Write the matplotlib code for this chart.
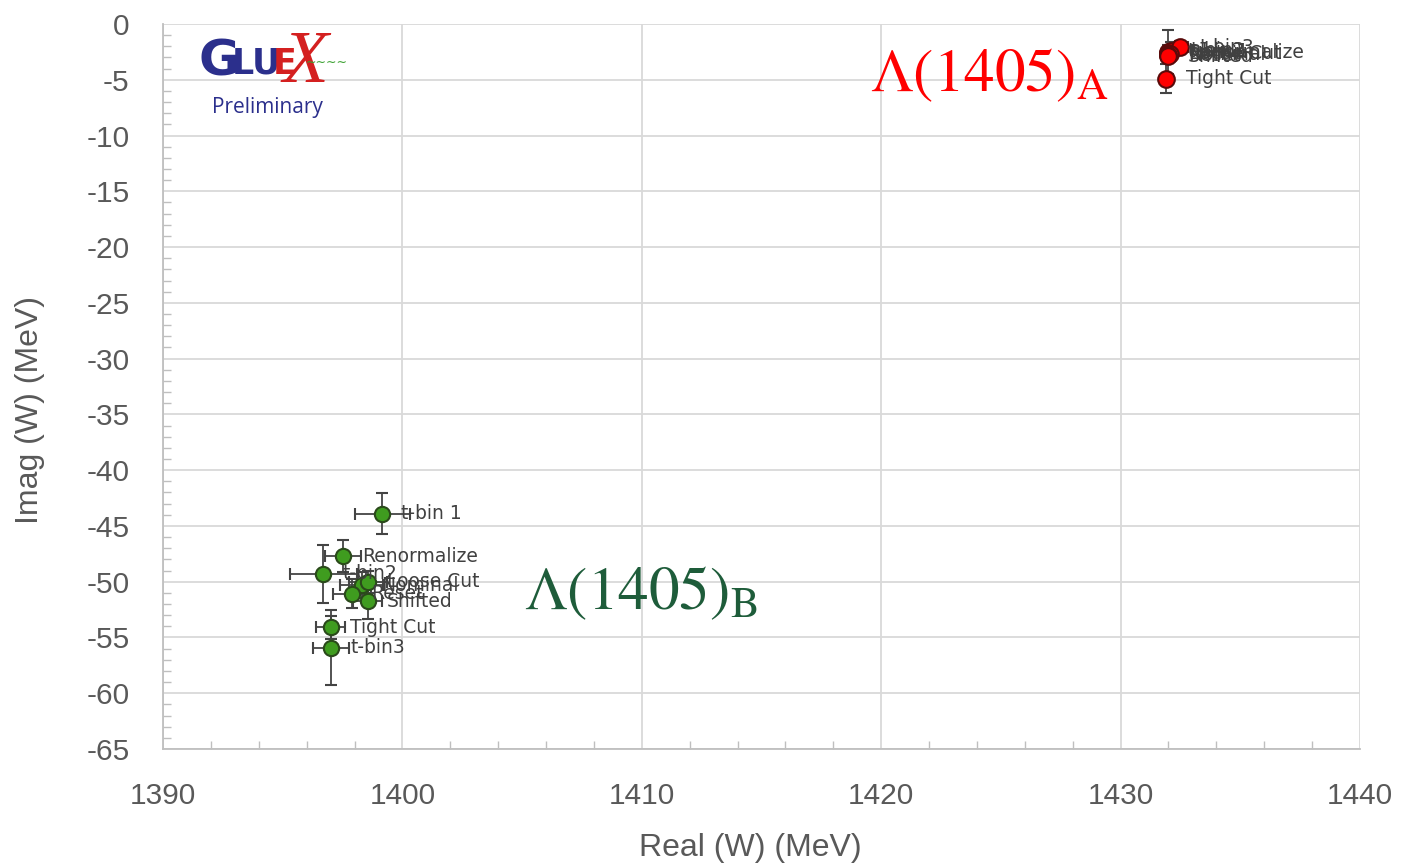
import numpy as np
import matplotlib.pyplot as plt
from matplotlib.ticker import MultipleLocator

plt.rcParams['axes.unicode_minus'] = False
plt.rcParams['mathtext.fontset'] = 'stix'

# Lambda(1405)_B pole positions (green)
b_names = ['t-bin 1', 'Renormalize', 't-bin2', 'Nominal', 'Loose Cut', 'Reset', 'Shifted', 'Tight Cut', 't-bin3']
b_re = [1399.15, 1397.5, 1396.7, 1398.3, 1398.55, 1397.9, 1398.55, 1397.0, 1397.0]
b_im = [-43.9, -47.7, -49.3, -50.3, -50.0, -51.1, -51.75, -54.1, -55.9]
b_re_err = [1.15, 0.75, 1.4, 0.9, 0.8, 0.8, 0.6, 0.6, 0.75]
b_im_err = [1.85, 1.4, 2.6, 1.2, 1.0, 1.3, 1.6, 1.0, 3.4]

# Lambda(1405)_A pole positions (red)
a_names = ['t-bin 1', 't-bin2', 't-bin3', 'Renormalize', 'Nominal', 'Loose Cut', 'Reset', 'Shifted', 'Tight Cut']
a_re = [1432.0, 1432.1, 1432.5, 1432.0, 1432.0, 1432.05, 1432.0, 1432.0, 1431.9]
a_im = [-2.5, -2.4, -2.1, -2.6, -2.7, -2.65, -2.8, -2.9, -4.9]
a_re_err = [0.2, 0.2, 0.3, 0.15, 0.1, 0.1, 0.1, 0.1, 0.1]
a_im_err = [2.0, 0.8, 0.6, 0.7, 0.6, 0.5, 0.7, 0.6, 1.3]

xticks = [1390, 1400, 1410, 1420, 1430, 1440]
yticks = list(range(-65, 1, 5))

gray = '#595959'
sans = 'Liberation Sans'
fig = plt.figure(figsize=(14.01, 8.67), dpi=100)
ax = fig.add_axes([163/1401, 1-749/867, (1360-163)/1401, (749-24)/867])

ax.errorbar(b_re, b_im, xerr=b_re_err, yerr=b_im_err, fmt='o', ms=11,
            mfc='#3f9c1f', mec='#2a4a1a', mew=1.5, ecolor='#444444',
            elinewidth=1.3, capsize=4, zorder=3)
ax.errorbar(a_re, a_im, xerr=a_re_err, yerr=a_im_err, fmt='o', ms=12,
            mfc='#ff0000', mec='#5a0a0a', mew=1.5, ecolor='#444444',
            elinewidth=1.3, capsize=4, zorder=3)

for n, x, y in zip(b_names + a_names, b_re + a_re, b_im + a_im):
    ax.annotate(n, (x, y), xytext=(14, 0), textcoords='offset points',
                va='center', ha='left', fontsize=13.5, color='#404040', zorder=4)

ax.set_xlim(1390, 1440)
ax.set_ylim(-65, 0)
ax.set_xticks(xticks)
ax.set_yticks(yticks)
ax.xaxis.set_minor_locator(MultipleLocator(2))
ax.yaxis.set_minor_locator(MultipleLocator(1))
ax.grid(True, which='major', color='#d9d9d9', lw=1.3)
ax.set_axisbelow(True)
for s in ['top', 'right']:
    ax.spines[s].set_visible(False)
for s in ['left', 'bottom']:
    ax.spines[s].set_color('#bfbfbf')
    ax.spines[s].set_linewidth(1.3)
ax.tick_params(which='major', direction='in', length=0, labelsize=21.5,
               labelcolor=gray)
ax.tick_params(axis='y', which='major', pad=24)
ax.tick_params(axis='x', which='major', pad=24)
ax.tick_params(which='minor', direction='in', length=6, color='#bfbfbf', width=1)
for lab in ax.get_xticklabels() + ax.get_yticklabels():
    lab.set_family(sans)

ax.set_xlabel('Real (W) (MeV)', fontsize=23, color=gray, family=sans)
ax.set_ylabel('Imag (W) (MeV)', fontsize=23, color=gray, family=sans)
ax.xaxis.set_label_coords(750/1401, 1-848/867, transform=fig.transFigure)
ax.yaxis.set_label_coords(30/1401, 1-410/867, transform=fig.transFigure)
ax.xaxis.label.set_va('center')
ax.yaxis.label.set_va('center')

ax.text(0.591, 0.93, r'$\mathrm{\Lambda(1405)}_{\mathrm{A}}$', transform=ax.transAxes,
        fontsize=44, color='#ff0000', va='center')
ax.text(0.302, 0.215, r'$\mathrm{\Lambda(1405)}_{\mathrm{B}}$', transform=ax.transAxes,
        fontsize=44, color='#1e5c3a', va='center')

# GlueX logo approximation
fig.text(198/1401, 1-62/867, 'G', fontsize=36, fontweight='bold',
         color='#2b2f8c', va='center', family='DejaVu Sans')
fig.text(232/1401, 1-64/867, 'LU', fontsize=25, fontweight='bold',
         color='#2b2f8c', va='center', family='DejaVu Sans')
fig.text(273/1401, 1-64/867, 'E', fontsize=25, fontweight='bold',
         color='#d42020', va='center', family='DejaVu Sans')
fig.text(282/1401, 1-64/867, 'X', fontsize=54, fontstyle='italic',
         color='#d42020', va='center', family='Liberation Serif')
fig.text(306/1401, 1-62/867, '\u223c\u223c\u223c\u223c', fontsize=9,
         color='#3aa030', va='center')
fig.text(267/1401, 1-107/867, 'Preliminary', fontsize=15,
         color='#2b2f8c', va='center', ha='center', family='Open Sans')

fig.savefig('out.png', dpi=100)
